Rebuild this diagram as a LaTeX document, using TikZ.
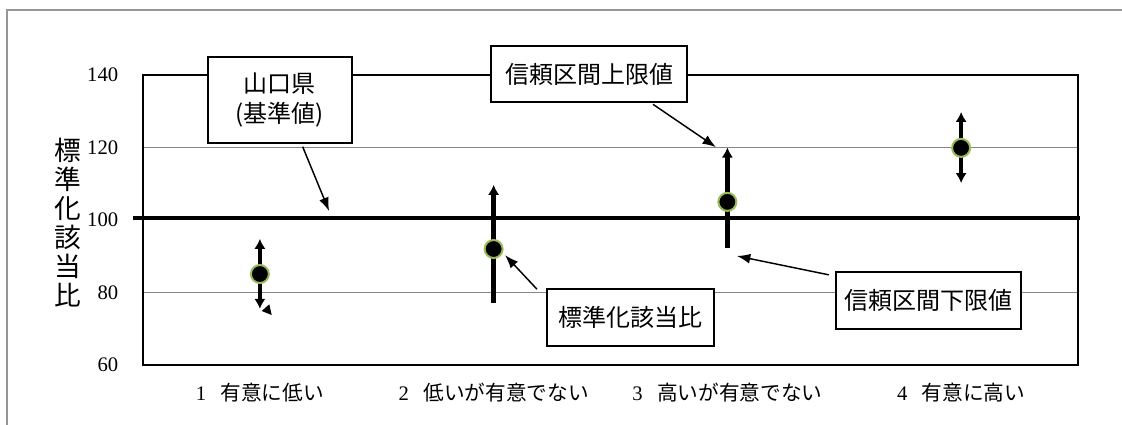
\documentclass[tikz,border=0pt]{standalone}
\usepackage{fontspec}
\setmainfont{Liberation Serif}
\newfontfamily\cjk{Noto Sans CJK JP}
\usetikzlibrary{arrows.meta, positioning, calc}

\begin{document}
\begin{tikzpicture}[x=175.3125pt, y=2.71875pt,
    labelbox/.style={rectangle, draw, line width=1.5pt, fill=white, align=center, inner sep=2pt, font=\cjk\fontsize{18}{23}\selectfont},
    smr/.style={circle, fill=black, draw=markgreen, line width=1.5pt, minimum size=13.5pt, inner sep=0pt},
    bar/.style={line width=3.5pt},
    uptip/.style={-{Latex[length=7.5pt,width=8.5pt]}},
    bothtip/.style={{Latex[length=7.5pt,width=8.5pt]}-{Latex[length=7.5pt,width=8.5pt]}},
    pointer/.style={-{Latex[length=10pt,width=7.5pt]}, line width=1.1pt},
    gridline/.style={draw=gridgray, line width=0.8pt},
    ticklabel/.style={anchor=east, font=\fontsize{15.5}{18}\selectfont},
    catlabel/.style={font=\fontsize{15.5}{18}\selectfont}]

    % Define colors
    \definecolor{markgreen}{RGB}{155,187,89}
    \definecolor{gridgray}{RGB}{134,134,134}
    \definecolor{framegray}{RGB}{150,150,150}

    \useasboundingbox (-0.1118,43.45) rectangle (4.6883,160.69);
    \draw[draw=framegray, line width=1.2pt] (-0.0818,43.45) |- (4.6883,157.93);

    % Axes and grid
    \foreach \v in {80,120} \draw[gridline] (0.5,\v) -- (4.5,\v);
    \draw[line width=1.5pt] (0.5,60) rectangle (4.5,140);
    \foreach \v in {60,80,...,140} \node[ticklabel] (tick\v) at (0.414,\v) {\v};
    \node[font=\cjk\fontsize{20}{21.75}\selectfont, align=center] (ytitle) at (0.179,99.3) {標\\準\\化\\該\\当\\比};
    \foreach \i/\txt in {1/有意に低い, 2/低いが有意でない, 3/高いが有意でない, 4/有意に高い}
        \node[catlabel] (cat\i) at (\i,52.3) {\i\hspace{0.7em}{\cjk\txt}};

    % Reference line
    \draw[line width=3pt] (0.457,100.5) -- (4.509,100.5);

    % Confidence intervals
    \draw[bar, bothtip] (1,75.5) -- (1,94.8);
    \fill (1.0078,74.9) -- (1.0403,76.74) -- (1.0506,73.79) -- cycle;
    \draw[bar, uptip] (2,77.1) -- (2,109.7);
    \draw[bar, uptip] (3,92.3) -- (3,120);
    \draw[bar, bothtip] (4,110.2) -- (4,129.8);

    % Ratios
    \node[smr] (p1) at (1,85.1) {};
    \node[smr] (p2) at (2,92) {};
    \node[smr] (p3) at (3,105) {};
    \node[smr] (p4) at (4,119.9) {};

    % Callouts
    \node[labelbox, minimum width=108pt, minimum height=64.5pt] (kijun) at (1.086,133.1) {山口県\\(基準値)};
    \node[labelbox, minimum width=147pt, minimum height=42pt] (upper) at (2.408,140.28) {信頼区間上限値};
    \node[labelbox, minimum width=125pt, minimum height=43pt] (ratio) at (2.586,73.1) {標準化該当比};
    \node[labelbox, minimum width=139pt, minimum height=43pt] (lower) at (3.860,77.8) {信頼区間下限値};

    \coordinate (kijunpt) at (1.296,102.5);
    \coordinate (uppt) at (2.951,120.1);
    \coordinate (ratiopt) at (2.049,90.3);
    \coordinate (lowpt) at (3.041,90.07);

    \draw[pointer] ([xshift=17pt,yshift=-2pt]kijun.south) -- (kijunpt);
    \draw[pointer] ([xshift=48pt,yshift=-1pt]upper.south) -- (uppt);
    \draw[pointer] ([xshift=-7pt,yshift=-1pt]ratio.north west) -- (ratiopt);
    \draw[pointer] ([xshift=-4.5pt,yshift=-3pt]lower.north west) -- (lowpt);

\end{tikzpicture}
\end{document}
